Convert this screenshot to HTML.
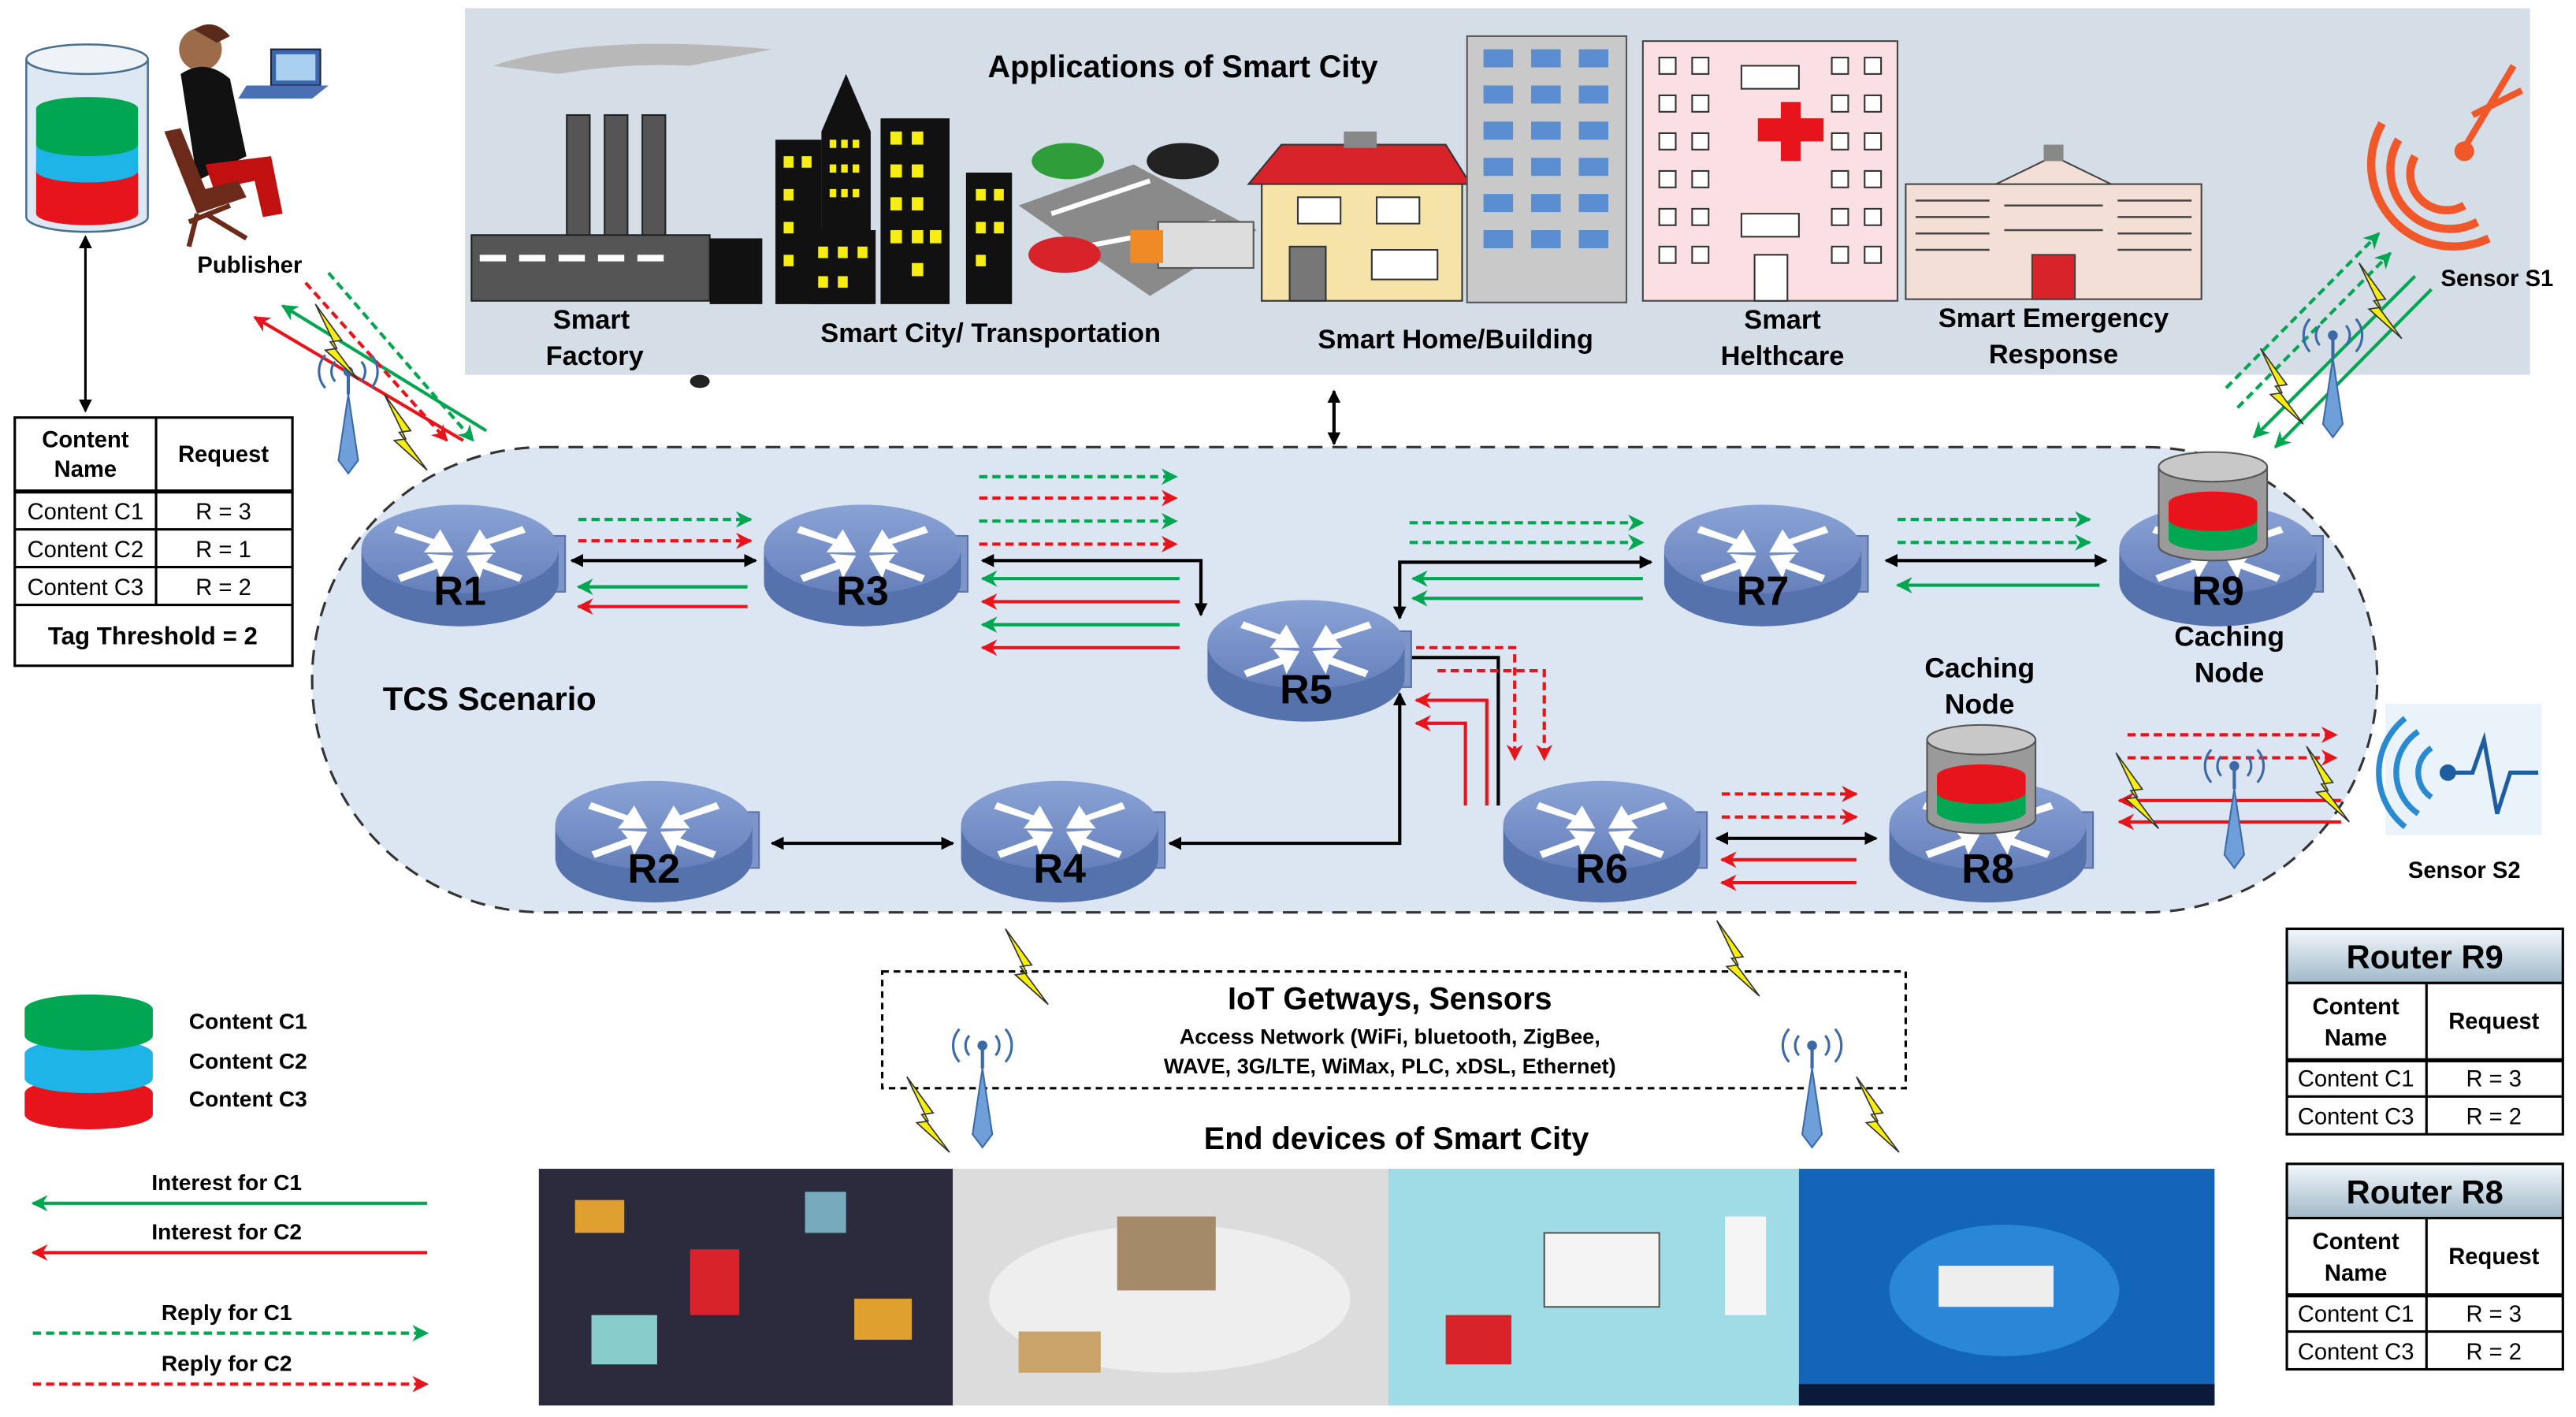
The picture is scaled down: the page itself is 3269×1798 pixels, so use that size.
<!DOCTYPE html>
<html><head><meta charset="utf-8"><style>
html,body{margin:0;padding:0;background:#fff;}
svg{display:block;}
text{font-family:"Liberation Sans",Arial,sans-serif;}
</style></head><body>
<svg width="3269" height="1798" viewBox="0 0 1568 862" preserveAspectRatio="none" xmlns="http://www.w3.org/2000/svg">
<defs>
<marker id="ak" markerWidth="8" markerHeight="8" refX="7" refY="4" orient="auto" markerUnits="userSpaceOnUse"><path d="M0,0 L8,4 L0,8 Z" fill="#000"/></marker>
<marker id="akr" markerWidth="8" markerHeight="8" refX="1" refY="4" orient="auto" markerUnits="userSpaceOnUse"><path d="M8,0 L0,4 L8,8 Z" fill="#000"/></marker>
<marker id="ag" markerWidth="10" markerHeight="10" refX="9" refY="5" orient="auto" markerUnits="userSpaceOnUse"><path d="M0,0 L10,5 L0,10 L3,5 Z" fill="#00a651"/></marker>
<marker id="ar" markerWidth="10" markerHeight="10" refX="9" refY="5" orient="auto" markerUnits="userSpaceOnUse"><path d="M0,0 L10,5 L0,10 L3,5 Z" fill="#e8141b"/></marker>
<linearGradient id="rt" x1="0" y1="0" x2="0" y2="1"><stop offset="0" stop-color="#8aa3d6"/><stop offset="1" stop-color="#6680bb"/></linearGradient>
<linearGradient id="hd" x1="0" y1="0" x2="0" y2="1"><stop offset="0" stop-color="#f4f8fb"/><stop offset="1" stop-color="#9fb8c9"/></linearGradient>
<g id="router">
<rect x="52" y="-16" width="12" height="34" fill="#7d95c8" stroke="#5a72a8" stroke-width="1"/>
<path d="M-60,-8 L-60,12 A60,27 0 0 0 60,12 L60,-8 Z" fill="#5672ad"/>
<ellipse cx="0" cy="-8" rx="60" ry="27" fill="url(#rt)"/>
<g fill="#fff">
<path d="M-38,-22 L-16,-14 L-12,-20 L-4,-6 L-22,-6 L-18,-11 L-40,-18 Z"/>
<path d="M38,-22 L16,-14 L12,-20 L4,-6 L22,-6 L18,-11 L40,-18 Z"/>
<path d="M-38,8 L-16,0 L-20,-5 L-4,-4 L-12,10 L-14,4 L-36,12 Z"/>
<path d="M38,8 L16,0 L20,-5 L4,-4 L12,10 L14,4 L36,12 Z"/>
</g>
</g>
<g id="cache">
<path d="M-33,0 L-33,48 A33,9 0 0 0 33,48 L33,0 Z" fill="#9a9a9a" stroke="#555" stroke-width="1"/>
<path d="M-27,22 L-27,44 A27,7 0 0 0 27,44 L27,22 Z" fill="#00a651"/>
<path d="M-27,22 L-27,32 A27,7 0 0 0 27,32 L27,22 Z" fill="#e8141b"/>
<ellipse cx="0" cy="22" rx="27" ry="7" fill="#e8141b"/>
<ellipse cx="0" cy="0" rx="33" ry="9" fill="#c8c8c8" stroke="#555" stroke-width="1"/>
</g>
<g id="ant">
<path d="M0,0 L-6,40 L0,48 L6,40 Z" fill="#6f9fd8" stroke="#3c6aa8" stroke-width="1"/>
<line x1="0" y1="0" x2="0" y2="-14" stroke="#3c6aa8" stroke-width="2"/>
<circle cx="0" cy="-14" r="3" fill="#3c6aa8"/>
<path d="M-8,-20 A9,9 0 0 0 -8,-8 M8,-20 A9,9 0 0 1 8,-8 M-14,-24 A15,15 0 0 0 -14,-4 M14,-24 A15,15 0 0 1 14,-4" stroke="#3c6aa8" stroke-width="1.5" fill="none"/>
</g>
<path id="bolt" d="M0,0 L16,22 L9,23 L26,46 L6,28 L13,27 Z" fill="#f5ee10" stroke="#333" stroke-width="0.8"/>
</defs>

<rect x="283" y="5" width="1257" height="223" fill="#d5dde7"/>
<text x="720" y="47" font-size="19" font-weight="bold" text-anchor="middle">Applications of Smart City</text>
<path d="M300,40 Q360,20 470,30 L420,40 Q380,38 340,45 Z" fill="#b8b8b8"/>
<rect x="345" y="70" width="14" height="85" fill="#555" stroke="#222"/>
<rect x="368" y="70" width="14" height="85" fill="#555" stroke="#222"/>
<rect x="391" y="70" width="14" height="85" fill="#555" stroke="#222"/>
<rect x="287" y="143" width="145" height="40" fill="#555" stroke="#222"/>
<g fill="#fff"><rect x="292" y="155" width="16" height="4"/><rect x="316" y="155" width="16" height="4"/><rect x="340" y="155" width="16" height="4"/><rect x="364" y="155" width="16" height="4"/><rect x="388" y="155" width="16" height="4"/></g>
<rect x="432" y="145" width="32" height="40" fill="#111"/>
<rect x="472" y="85" width="28" height="100" fill="#111"/>
<path d="M500,185 L500,80 L515,45 L530,80 L530,185 Z" fill="#111"/>
<rect x="536" y="72" width="42" height="113" fill="#111"/>
<rect x="493" y="140" width="40" height="45" fill="#111"/>
<rect x="588" y="105" width="28" height="80" fill="#111"/>
<g fill="#f5ee10">
<rect x="477" y="95" width="6" height="7"/><rect x="488" y="95" width="6" height="7"/><rect x="477" y="115" width="6" height="7"/><rect x="477" y="135" width="6" height="7"/><rect x="477" y="155" width="6" height="7"/>
<rect x="505" y="85" width="4" height="5"/><rect x="512" y="85" width="4" height="5"/><rect x="519" y="85" width="4" height="5"/><rect x="505" y="100" width="4" height="5"/><rect x="512" y="100" width="4" height="5"/><rect x="519" y="100" width="4" height="5"/><rect x="505" y="115" width="4" height="5"/><rect x="512" y="115" width="4" height="5"/><rect x="519" y="115" width="4" height="5"/>
<rect x="498" y="150" width="6" height="7"/><rect x="510" y="150" width="6" height="7"/><rect x="522" y="150" width="6" height="7"/><rect x="498" y="168" width="6" height="7"/><rect x="510" y="168" width="6" height="7"/>
<rect x="542" y="80" width="7" height="8"/><rect x="555" y="80" width="7" height="8"/><rect x="542" y="100" width="7" height="8"/><rect x="555" y="100" width="7" height="8"/><rect x="542" y="120" width="7" height="8"/><rect x="555" y="120" width="7" height="8"/><rect x="542" y="140" width="7" height="8"/><rect x="555" y="140" width="7" height="8"/><rect x="566" y="140" width="7" height="8"/><rect x="555" y="160" width="7" height="8"/>
<rect x="594" y="115" width="6" height="7"/><rect x="605" y="115" width="6" height="7"/><rect x="594" y="135" width="6" height="7"/><rect x="605" y="135" width="6" height="7"/><rect x="594" y="155" width="6" height="7"/>
</g>
<path d="M620,125 L690,100 L765,140 L700,180 Z" fill="#8a8a8a"/>
<path d="M640,130 L700,110 M660,150 L740,135" stroke="#fff" stroke-width="3"/>
<ellipse cx="650" cy="98" rx="22" ry="11" fill="#2f9e3a"/>
<ellipse cx="720" cy="98" rx="22" ry="11" fill="#222"/>
<ellipse cx="648" cy="155" rx="22" ry="11" fill="#d9232a"/>
<rect x="705" y="135" width="58" height="28" fill="#ddd" stroke="#555"/>
<rect x="688" y="140" width="20" height="20" fill="#f08a24"/>
<rect x="768" y="108" width="122" height="75" fill="#f5e3a8" stroke="#333"/>
<path d="M760,112 L780,88 L880,88 L895,112 Z" fill="#d9232a" stroke="#333"/>
<rect x="818" y="80" width="20" height="10" fill="#888"/>
<rect x="790" y="120" width="26" height="16" fill="#fff" stroke="#333"/>
<rect x="838" y="120" width="26" height="16" fill="#fff" stroke="#333"/>
<rect x="785" y="150" width="22" height="33" fill="#777" stroke="#333"/>
<rect x="835" y="152" width="40" height="18" fill="#fff" stroke="#333"/>
<rect x="893" y="22" width="97" height="162" fill="#c9c9c9" stroke="#555"/>
<g fill="#5b8ed0">
<rect x="903" y="30" width="18" height="11"/><rect x="932" y="30" width="18" height="11"/><rect x="961" y="30" width="18" height="11"/>
<rect x="903" y="52" width="18" height="11"/><rect x="932" y="52" width="18" height="11"/><rect x="961" y="52" width="18" height="11"/>
<rect x="903" y="74" width="18" height="11"/><rect x="932" y="74" width="18" height="11"/><rect x="961" y="74" width="18" height="11"/>
<rect x="903" y="96" width="18" height="11"/><rect x="932" y="96" width="18" height="11"/><rect x="961" y="96" width="18" height="11"/>
<rect x="903" y="118" width="18" height="11"/><rect x="932" y="118" width="18" height="11"/><rect x="961" y="118" width="18" height="11"/>
<rect x="903" y="140" width="18" height="11"/><rect x="932" y="140" width="18" height="11"/><rect x="961" y="140" width="18" height="11"/>
</g>
<rect x="1000" y="25" width="155" height="158" fill="#fbe0e3" stroke="#444"/>
<g fill="#fff" stroke="#333" stroke-width="1">
<rect x="1010" y="35" width="10" height="10"/><rect x="1030" y="35" width="10" height="10"/><rect x="1115" y="35" width="10" height="10"/><rect x="1135" y="35" width="10" height="10"/>
<rect x="1010" y="58" width="10" height="10"/><rect x="1030" y="58" width="10" height="10"/><rect x="1115" y="58" width="10" height="10"/><rect x="1135" y="58" width="10" height="10"/>
<rect x="1010" y="81" width="10" height="10"/><rect x="1030" y="81" width="10" height="10"/><rect x="1115" y="81" width="10" height="10"/><rect x="1135" y="81" width="10" height="10"/>
<rect x="1010" y="104" width="10" height="10"/><rect x="1030" y="104" width="10" height="10"/><rect x="1115" y="104" width="10" height="10"/><rect x="1135" y="104" width="10" height="10"/>
<rect x="1010" y="127" width="10" height="10"/><rect x="1030" y="127" width="10" height="10"/><rect x="1115" y="127" width="10" height="10"/><rect x="1135" y="127" width="10" height="10"/>
<rect x="1010" y="150" width="10" height="10"/><rect x="1030" y="150" width="10" height="10"/><rect x="1115" y="150" width="10" height="10"/><rect x="1135" y="150" width="10" height="10"/>
<rect x="1060" y="40" width="35" height="14"/><rect x="1060" y="130" width="35" height="14"/><rect x="1068" y="155" width="20" height="28"/>
</g>
<path d="M1070,72 L1084,72 L1084,62 L1096,62 L1096,72 L1110,72 L1110,86 L1096,86 L1096,98 L1084,98 L1084,86 L1070,86 Z" fill="#e8141b"/>
<rect x="1160" y="112" width="180" height="70" fill="#f3dfd6" stroke="#444"/>
<path d="M1215,112 L1250,95 L1285,112 Z" fill="#f3dfd6" stroke="#444"/>
<rect x="1244" y="88" width="12" height="10" fill="#888"/>
<g stroke="#444" fill="none" stroke-width="1.2">
<path d="M1166,122 h45 M1166,132 h45 M1166,142 h45 M1166,152 h45 M1289,122 h45 M1289,132 h45 M1289,142 h45 M1289,152 h45 M1220,125 h60 M1220,140 h60"/>
</g>
<rect x="1237" y="155" width="26" height="27" fill="#d9232a" stroke="#444"/>
<g font-size="16.5" font-weight="bold" text-anchor="middle">
<text x="360" y="200">Smart</text><text x="362" y="222">Factory</text>
<text x="603" y="208">Smart City/ Transportation</text>
<text x="886" y="212">Smart Home/Building</text>
<text x="1085" y="200">Smart</text><text x="1085" y="222">Helthcare</text>
<text x="1250" y="199">Smart Emergency</text><text x="1250" y="221">Response</text>
</g>
<ellipse cx="426" cy="232" rx="6" ry="4" fill="#222"/>
<line x1="812" y1="238" x2="812" y2="270" stroke="#000" stroke-width="2" marker-start="url(#akr)" marker-end="url(#ak)"/>

<rect x="190" y="272" width="1257" height="283" rx="141" ry="141" fill="#dce6f2" stroke="#333" stroke-width="1.5" stroke-dasharray="9,6"/>
<text x="298" y="432" font-size="20" font-weight="bold" text-anchor="middle">TCS Scenario</text>

<g stroke-width="2" fill="none">
<line x1="352" y1="316" x2="457" y2="316" stroke="#00a651" stroke-dasharray="5,3" marker-end="url(#ag)"/>
<line x1="352" y1="329" x2="457" y2="329" stroke="#e8141b" stroke-dasharray="5,3" marker-end="url(#ar)"/>
<line x1="348" y1="341" x2="460" y2="341" stroke="#000" marker-start="url(#akr)" marker-end="url(#ak)"/>
<line x1="455" y1="357" x2="352" y2="357" stroke="#00a651" marker-end="url(#ag)"/>
<line x1="455" y1="369" x2="352" y2="369" stroke="#e8141b" marker-end="url(#ar)"/>
<line x1="596" y1="290" x2="716" y2="290" stroke="#00a651" stroke-dasharray="5,3" marker-end="url(#ag)"/>
<line x1="596" y1="303" x2="716" y2="303" stroke="#e8141b" stroke-dasharray="5,3" marker-end="url(#ar)"/>
<line x1="596" y1="317" x2="716" y2="317" stroke="#00a651" stroke-dasharray="5,3" marker-end="url(#ag)"/>
<line x1="596" y1="331" x2="716" y2="331" stroke="#e8141b" stroke-dasharray="5,3" marker-end="url(#ar)"/>
<polyline points="598,341 731,341 731,374" stroke="#000" marker-start="url(#akr)" marker-end="url(#ak)"/>
<line x1="718" y1="352" x2="598" y2="352" stroke="#00a651" marker-end="url(#ag)"/>
<line x1="718" y1="366" x2="598" y2="366" stroke="#e8141b" marker-end="url(#ar)"/>
<line x1="718" y1="380" x2="598" y2="380" stroke="#00a651" marker-end="url(#ag)"/>
<line x1="718" y1="394" x2="598" y2="394" stroke="#e8141b" marker-end="url(#ar)"/>
<polyline points="852,376 852,342 1005,342" stroke="#000" marker-start="url(#akr)" marker-end="url(#ak)"/>
<line x1="858" y1="318" x2="1000" y2="318" stroke="#00a651" stroke-dasharray="5,3" marker-end="url(#ag)"/>
<line x1="858" y1="330" x2="1000" y2="330" stroke="#00a651" stroke-dasharray="5,3" marker-end="url(#ag)"/>
<line x1="1000" y1="352" x2="860" y2="352" stroke="#00a651" marker-end="url(#ag)"/>
<line x1="1000" y1="364" x2="860" y2="364" stroke="#00a651" marker-end="url(#ag)"/>
<line x1="1155" y1="316" x2="1272" y2="316" stroke="#00a651" stroke-dasharray="5,3" marker-end="url(#ag)"/>
<line x1="1155" y1="330" x2="1272" y2="330" stroke="#00a651" stroke-dasharray="5,3" marker-end="url(#ag)"/>
<line x1="1148" y1="341" x2="1282" y2="341" stroke="#000" marker-start="url(#akr)" marker-end="url(#ak)"/>
<line x1="1278" y1="356" x2="1155" y2="356" stroke="#00a651" marker-end="url(#ag)"/>
<polyline points="856,400 912,400 912,490" stroke="#000"/>
<polyline points="862,394 922,394 922,462" stroke="#e8141b" stroke-dasharray="5,3" marker-end="url(#ar)"/>
<polyline points="875,408 940,408 940,462" stroke="#e8141b" stroke-dasharray="5,3" marker-end="url(#ar)"/>
<polyline points="905,490 905,426 862,426" stroke="#e8141b" marker-end="url(#ar)"/>
<polyline points="892,490 892,440 862,440" stroke="#e8141b" marker-end="url(#ar)"/>
<polyline points="712,513 852,513 852,422" stroke="#000" marker-start="url(#akr)" marker-end="url(#ak)"/>
<line x1="470" y1="513" x2="580" y2="513" stroke="#000" marker-start="url(#akr)" marker-end="url(#ak)"/>
<line x1="1048" y1="483" x2="1130" y2="483" stroke="#e8141b" stroke-dasharray="5,3" marker-end="url(#ar)"/>
<line x1="1048" y1="497" x2="1130" y2="497" stroke="#e8141b" stroke-dasharray="5,3" marker-end="url(#ar)"/>
<line x1="1045" y1="510" x2="1142" y2="510" stroke="#000" marker-start="url(#akr)" marker-end="url(#ak)"/>
<line x1="1130" y1="523" x2="1048" y2="523" stroke="#e8141b" marker-end="url(#ar)"/>
<line x1="1130" y1="537" x2="1048" y2="537" stroke="#e8141b" marker-end="url(#ar)"/>
<line x1="1295" y1="447" x2="1422" y2="447" stroke="#e8141b" stroke-dasharray="5,3" marker-end="url(#ar)"/>
<line x1="1295" y1="461" x2="1422" y2="461" stroke="#e8141b" stroke-dasharray="5,3" marker-end="url(#ar)"/>
<line x1="1425" y1="487" x2="1290" y2="487" stroke="#e8141b" marker-end="url(#ar)"/>
<line x1="1425" y1="500" x2="1290" y2="500" stroke="#e8141b" marker-end="url(#ar)"/>
<line x1="282" y1="268" x2="155" y2="193" stroke="#e8141b" marker-end="url(#ar)"/>
<line x1="296" y1="262" x2="172" y2="186" stroke="#00a651" marker-end="url(#ag)"/>
<line x1="186" y1="172" x2="272" y2="268" stroke="#e8141b" stroke-dasharray="5,3" marker-end="url(#ar)"/>
<line x1="200" y1="166" x2="288" y2="268" stroke="#00a651" stroke-dasharray="5,3" marker-end="url(#ag)"/>
<line x1="1355" y1="236" x2="1448" y2="142" stroke="#00a651" stroke-dasharray="5,3" marker-end="url(#ag)"/>
<line x1="1362" y1="248" x2="1455" y2="154" stroke="#00a651" stroke-dasharray="5,3" marker-end="url(#ag)"/>
<line x1="1470" y1="168" x2="1372" y2="266" stroke="#00a651" marker-end="url(#ag)"/>
<line x1="1480" y1="176" x2="1385" y2="272" stroke="#00a651" marker-end="url(#ag)"/>
</g>
<use href="#ant" x="212" y="240"/>
<use href="#bolt" x="192" y="185"/><use href="#bolt" x="234" y="240"/>
<use href="#ant" x="1420" y="218"/>
<use href="#bolt" x="1376" y="212"/><use href="#bolt" x="1436" y="160"/>
<use href="#ant" x="1360" y="480"/>
<use href="#bolt" x="1288" y="458"/><use href="#bolt" x="1404" y="454"/>

<use href="#router" x="280" y="342"/>
<use href="#router" x="525" y="342"/>
<use href="#router" x="795" y="400"/>
<use href="#router" x="1073" y="342"/>
<use href="#router" x="1350" y="342"/>
<use href="#router" x="398" y="510"/>
<use href="#router" x="645" y="510"/>
<use href="#router" x="975" y="510"/>
<use href="#router" x="1210" y="510"/>
<use href="#cache" x="1347" y="284"/>
<use href="#cache" x="1206" y="450"/>
<g font-size="25" font-weight="bold" text-anchor="middle">
<text x="280" y="368">R1</text><text x="525" y="368">R3</text><text x="795" y="428">R5</text>
<text x="1073" y="368">R7</text><text x="1350" y="368">R9</text>
<text x="398" y="537">R2</text><text x="645" y="537">R4</text><text x="975" y="537">R6</text><text x="1210" y="537">R8</text>
</g>
<g font-size="17" font-weight="bold" text-anchor="middle">
<text x="1357" y="393">Caching</text><text x="1357" y="415">Node</text>
<text x="1205" y="412">Caching</text><text x="1205" y="434">Node</text>
</g>

<path d="M16,36 L16,132 A37,9 0 0 0 90,132 L90,36" fill="#dde8f2" stroke="#4a6f8f" stroke-width="1.2"/>
<ellipse cx="53" cy="36" rx="37" ry="9" fill="#eef3f8" stroke="#4a6f8f" stroke-width="1.2"/>
<path d="M22,100 L22,130 A31,7 0 0 0 84,130 L84,100 Z" fill="#e8141b"/>
<path d="M22,84 L22,104 A31,7 0 0 0 84,104 L84,84 Z" fill="#1eb4e8"/>
<path d="M22,66 L22,88 A31,7 0 0 0 84,88 L84,66 Z" fill="#00a651"/>
<ellipse cx="53" cy="66" rx="31" ry="7" fill="#00a651"/>
<circle cx="122" cy="30" r="13" fill="#9b6b4a"/>
<path d="M118,18 Q130,10 140,22 L132,26 Z" fill="#5a2a1a"/>
<path d="M110,45 Q125,35 140,48 L150,95 L120,110 Z" fill="#111"/>
<path d="M125,100 L165,95 L172,130 L160,132 L155,110 L130,115 Z" fill="#c01010"/>
<path d="M100,80 L120,130 L150,120 L145,110 L125,115 L110,78 Z" fill="#6b2a1a"/>
<path d="M115,135 L140,125 M120,130 L115,150 M125,130 L150,145" stroke="#6b2a1a" stroke-width="3"/>
<rect x="165" y="30" width="30" height="22" fill="#3a66b0" stroke="#223"/>
<rect x="168" y="33" width="24" height="16" fill="#aad0f0"/>
<path d="M150,52 L200,52 L190,60 L145,60 Z" fill="#4b6fb5"/>
<text x="152" y="166" font-size="14" font-weight="bold" text-anchor="middle">Publisher</text>
<line x1="52" y1="144" x2="52" y2="250" stroke="#000" stroke-width="1.5" marker-start="url(#akr)" marker-end="url(#ak)"/>
<g stroke="#000" stroke-width="1.5" fill="none">
<rect x="9" y="254" width="169" height="151" fill="#fff"/>
<line x1="9" y1="299" x2="178" y2="299" stroke-width="2.5"/>
<line x1="9" y1="322" x2="178" y2="322"/>
<line x1="9" y1="345" x2="178" y2="345"/>
<line x1="9" y1="368" x2="178" y2="368"/>
<line x1="95" y1="254" x2="95" y2="368"/>
</g>
<g font-size="14" text-anchor="middle">
<text x="52" y="272" font-weight="bold">Content</text><text x="52" y="290" font-weight="bold">Name</text>
<text x="136" y="281" font-weight="bold">Request</text>
<text x="52" y="316">Content C1</text><text x="136" y="316">R = 3</text>
<text x="52" y="339">Content C2</text><text x="136" y="339">R = 1</text>
<text x="52" y="362">Content C3</text><text x="136" y="362">R = 2</text>
<text x="93" y="392" font-weight="bold" font-size="15">Tag Threshold = 2</text>
</g>

<g stroke="#f0582a" stroke-width="5" fill="none">
<path d="M1470,95 A22,22 0 0 0 1500,125"/>
<path d="M1460,85 A36,36 0 0 0 1508,135"/>
<path d="M1450,75 A50,50 0 0 0 1515,145"/>
<path d="M1500,90 L1530,40 M1505,70 L1535,55" stroke-width="4"/>
</g>
<circle cx="1500" cy="92" r="6" fill="#f0582a"/>
<text x="1520" y="174" font-size="14" font-weight="bold" text-anchor="middle">Sensor S1</text>
<rect x="1452" y="428" width="95" height="80" fill="#eaf3f9"/>
<g stroke="#2a8ad0" stroke-width="3.5" fill="none">
<path d="M1480,455 A18,18 0 0 0 1480,485"/>
<path d="M1472,445 A30,30 0 0 0 1472,495"/>
<path d="M1464,437 A42,42 0 0 0 1464,503"/>
<path d="M1488,470 L1505,470 L1512,450 L1520,495 L1528,470 L1545,470" stroke="#1d5ea0" stroke-width="2.5"/>
</g>
<circle cx="1490" cy="470" r="5" fill="#1d5ea0"/>
<text x="1500" y="534" font-size="14" font-weight="bold" text-anchor="middle">Sensor S2</text>

<g>
<rect x="1392" y="565" width="168" height="33" fill="url(#hd)" stroke="#000" stroke-width="1.5"/>
<rect x="1392" y="598" width="168" height="92" fill="#fff" stroke="#000" stroke-width="1.5"/>
<line x1="1392" y1="645" x2="1560" y2="645" stroke="#000" stroke-width="2.5"/>
<line x1="1392" y1="667" x2="1560" y2="667" stroke="#000" stroke-width="1.5"/>
<line x1="1477" y1="598" x2="1477" y2="690" stroke="#000" stroke-width="1.5"/>
<rect x="1392" y="708" width="168" height="33" fill="url(#hd)" stroke="#000" stroke-width="1.5"/>
<rect x="1392" y="741" width="168" height="92" fill="#fff" stroke="#000" stroke-width="1.5"/>
<line x1="1392" y1="788" x2="1560" y2="788" stroke="#000" stroke-width="2.5"/>
<line x1="1392" y1="810" x2="1560" y2="810" stroke="#000" stroke-width="1.5"/>
<line x1="1477" y1="741" x2="1477" y2="833" stroke="#000" stroke-width="1.5"/>
</g>
<g font-size="14" text-anchor="middle">
<text x="1476" y="589" font-size="20" font-weight="bold">Router R9</text>
<text x="1434" y="617" font-weight="bold">Content</text><text x="1434" y="636" font-weight="bold">Name</text>
<text x="1518" y="626" font-weight="bold">Request</text>
<text x="1434" y="661">Content C1</text><text x="1518" y="661">R = 3</text>
<text x="1434" y="684">Content C3</text><text x="1518" y="684">R = 2</text>
<text x="1476" y="732" font-size="20" font-weight="bold">Router R8</text>
<text x="1434" y="760" font-weight="bold">Content</text><text x="1434" y="779" font-weight="bold">Name</text>
<text x="1518" y="769" font-weight="bold">Request</text>
<text x="1434" y="804">Content C1</text><text x="1518" y="804">R = 3</text>
<text x="1434" y="827">Content C3</text><text x="1518" y="827">R = 2</text>
</g>

<rect x="537" y="591" width="623" height="71" fill="none" stroke="#000" stroke-width="1.5" stroke-dasharray="4,3"/>
<text x="846" y="614" font-size="19" font-weight="bold" text-anchor="middle">IoT Getways, Sensors</text>
<text x="846" y="635" font-size="13" font-weight="bold" text-anchor="middle">Access Network (WiFi, bluetooth, ZigBee,</text>
<text x="846" y="653" font-size="13" font-weight="bold" text-anchor="middle">WAVE, 3G/LTE, WiMax, PLC, xDSL, Ethernet)</text>
<use href="#ant" x="598" y="650"/>
<use href="#ant" x="1103" y="650"/>
<use href="#bolt" x="612" y="565"/>
<use href="#bolt" x="552" y="655"/>
<use href="#bolt" x="1045" y="560"/>
<use href="#bolt" x="1130" y="655"/>
<text x="850" y="699" font-size="19" font-weight="bold" text-anchor="middle">End devices of Smart City</text>
<rect x="328" y="711" width="252" height="144" fill="#2b2b3d"/>
<g fill="#e0a030"><rect x="350" y="730" width="30" height="20"/><rect x="420" y="760" width="30" height="40" fill="#d9232a"/><rect x="490" y="725" width="25" height="25" fill="#7ab"/><rect x="520" y="790" width="35" height="25"/><rect x="360" y="800" width="40" height="30" fill="#8cc"/></g>
<rect x="580" y="711" width="265" height="144" fill="#dcdcdc"/>
<ellipse cx="712" cy="790" rx="110" ry="45" fill="#eee"/>
<rect x="680" y="740" width="60" height="45" fill="#a58a6a"/>
<rect x="620" y="810" width="50" height="25" fill="#c9a36a"/>
<rect x="845" y="711" width="250" height="144" fill="#9fdce6"/>
<rect x="940" y="750" width="70" height="45" fill="#f4f4f4" stroke="#555"/>
<rect x="880" y="800" width="40" height="30" fill="#d9232a"/>
<rect x="1050" y="740" width="25" height="60" fill="#f5f5f5"/>
<rect x="1095" y="711" width="253" height="144" fill="#1265b8"/>
<ellipse cx="1220" cy="785" rx="70" ry="40" fill="#2a86d6"/>
<rect x="1180" y="770" width="70" height="25" fill="#eee"/>
<rect x="1095" y="842" width="253" height="13" fill="#0c1a3a"/>

<path d="M15,665 L15,678 A39,9 0 0 0 93,678 L93,665 Z" fill="#e8141b"/>
<ellipse cx="54" cy="665" rx="39" ry="9" fill="#e8141b"/>
<path d="M15,641 L15,656 A39,9 0 0 0 93,656 L93,641 Z" fill="#1eb4e8"/>
<ellipse cx="54" cy="641" rx="39" ry="9" fill="#1eb4e8"/>
<path d="M15,614 L15,630 A39,9 0 0 0 93,630 L93,614 Z" fill="#00a651"/>
<ellipse cx="54" cy="614" rx="39" ry="9" fill="#00a651"/>
<g font-size="13.5" font-weight="bold">
<text x="115" y="626">Content C1</text><text x="115" y="650">Content C2</text><text x="115" y="673">Content C3</text>
</g>
<g font-size="13.5" font-weight="bold" text-anchor="middle">
<text x="138" y="724">Interest for C1</text>
<text x="138" y="754">Interest for C2</text>
<text x="138" y="803">Reply for C1</text>
<text x="138" y="834">Reply for C2</text>
</g>
<g stroke-width="2">
<line x1="260" y1="732" x2="20" y2="732" stroke="#00a651" marker-end="url(#ag)"/>
<line x1="260" y1="762" x2="20" y2="762" stroke="#e8141b" marker-end="url(#ar)"/>
<line x1="20" y1="811" x2="260" y2="811" stroke="#00a651" stroke-dasharray="5,3" marker-end="url(#ag)"/>
<line x1="20" y1="842" x2="260" y2="842" stroke="#e8141b" stroke-dasharray="5,3" marker-end="url(#ar)"/>
</g>
</svg>
</body></html>
